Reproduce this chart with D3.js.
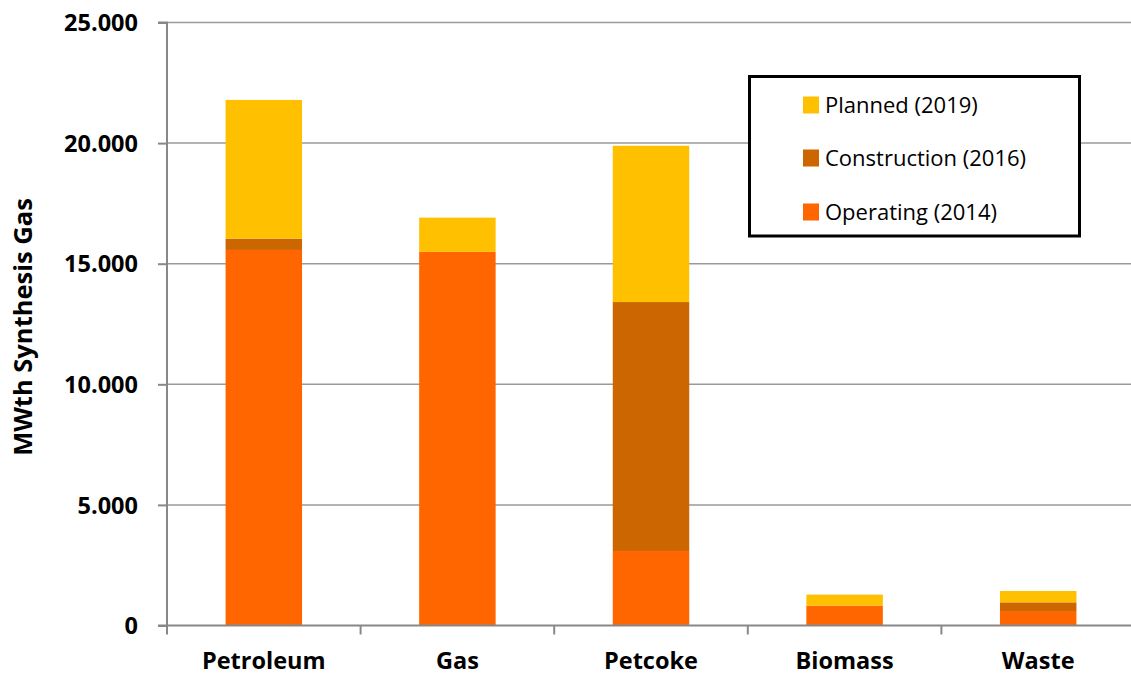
<!DOCTYPE html>
<html>
<head>
<meta charset="utf-8">
<script src="https://cdn.jsdelivr.net/npm/d3@7"></script>
<style>
  html, body { margin: 0; padding: 0; background: #fff; }
  svg { display: block; }
  text { font-family: "Open Sans", sans-serif; }
</style>
</head>
<body>
<svg id="chart" width="1131" height="676"></svg>
<script>
const categories = ["Petroleum", "Gas", "Petcoke", "Biomass", "Waste"];
const operating    = [15570, 15490, 3090, 820, 600];
const construction = [470, 0, 10320, 0, 360];
const planned      = [5750, 1420, 6480, 460, 470];
const seriesNames  = ["Operating (2014)", "Construction (2016)", "Planned (2019)"];
const seriesKeys   = ["operating", "construction", "planned"];
const seriesColors = ["#FF6600", "#CC6600", "#FFC000"];
const yTicks = [0, 5000, 10000, 15000, 20000, 25000];

const rows = categories.map((c, i) => ({
  cat: c, operating: operating[i], construction: construction[i], planned: planned[i]
}));

const svg = d3.select("#chart");
const mLeft = 167, mRight = 1135, mTop = 22.5, mBottom = 625.5;

const x = d3.scaleBand().domain(categories).range([mLeft, mRight]).paddingInner(0.605).paddingOuter(0.3025);
const y = d3.scaleLinear().domain([0, 25000]).range([mBottom, mTop]);

// gridlines
svg.append("g").selectAll("line").data(yTicks.filter(d => d > 0)).join("line")
  .attr("x1", mLeft).attr("x2", mRight)
  .attr("y1", d => y(d)).attr("y2", d => y(d))
  .attr("stroke", "#9a9a9a").attr("stroke-width", 1.5);

// bars
const stack = d3.stack().keys(seriesKeys)(rows);
svg.append("g").selectAll("g").data(stack).join("g")
  .attr("fill", (d, i) => seriesColors[i])
  .selectAll("rect").data(d => d.filter(s => s[1] - s[0] > 0)).join("rect")
  .attr("x", d => x(d.data.cat))
  .attr("width", x.bandwidth())
  .attr("y", d => y(d[1]))
  .attr("height", d => y(d[0]) - y(d[1]));

// y axis
const yAxis = d3.axisLeft(y).tickValues(yTicks).tickSize(9).tickPadding(20)
  .tickFormat(d => d === 0 ? "0" : d3.format(",")(d).replace(/,/g, "."));
const gy = svg.append("g").attr("transform", `translate(${mLeft},0)`).call(yAxis);
gy.select(".domain").attr("stroke", "#888").attr("stroke-width", 2).attr("d", `M-9,${mTop}H0V${mBottom}H-9`);
gy.selectAll(".tick line").attr("stroke", "#888").attr("stroke-width", 2);
gy.selectAll(".tick text").attr("font-family", "Open Sans").attr("font-weight", "bold")
  .attr("font-size", 23.5).attr("fill", "#000").attr("dy", "0.35em");

// x axis
const gx = svg.append("g").attr("transform", `translate(0,${mBottom})`);
gx.append("line").attr("x1", mLeft).attr("x2", mRight).attr("stroke", "#888").attr("stroke-width", 2);
const boundaries = d3.range(categories.length + 1).map(i => mLeft + i * x.step());
gx.selectAll("line.tk").data(boundaries).join("line").attr("class", "tk")
  .attr("x1", d => d).attr("x2", d => d).attr("y1", 0).attr("y2", 9)
  .attr("stroke", "#888").attr("stroke-width", 2);
gx.selectAll("text").data(categories).join("text")
  .attr("x", d => x(d) + x.bandwidth() / 2)
  .attr("y", 43.5)
  .attr("text-anchor", "middle")
  .attr("font-weight", "bold").attr("font-size", 23.5).attr("fill", "#000")
  .text(d => d);

// y title
svg.append("text")
  .attr("transform", "translate(32,327) rotate(-90)")
  .attr("text-anchor", "middle")
  .attr("font-weight", "bold").attr("font-size", 25.5).attr("fill", "#000")
  .text("MWth Synthesis Gas");

// legend
const lg = svg.append("g");
lg.append("rect").attr("x", 749.5).attr("y", 76.5).attr("width", 330).attr("height", 159.5)
  .attr("fill", "#fff").attr("stroke", "#000").attr("stroke-width", 3);
const legendOrder = [2, 1, 0];
const legendY = [105, 158, 212];
legendOrder.forEach((si, k) => {
  lg.append("rect").attr("x", 803).attr("y", legendY[k] - 8.5).attr("width", 16).attr("height", 17)
    .attr("fill", seriesColors[si]);
  lg.append("text").attr("x", 825).attr("y", legendY[k]).attr("dy", "0.36em")
    .attr("font-size", 22).attr("fill", "#000").text(seriesNames[si]);
});
</script>
</body>
</html>
